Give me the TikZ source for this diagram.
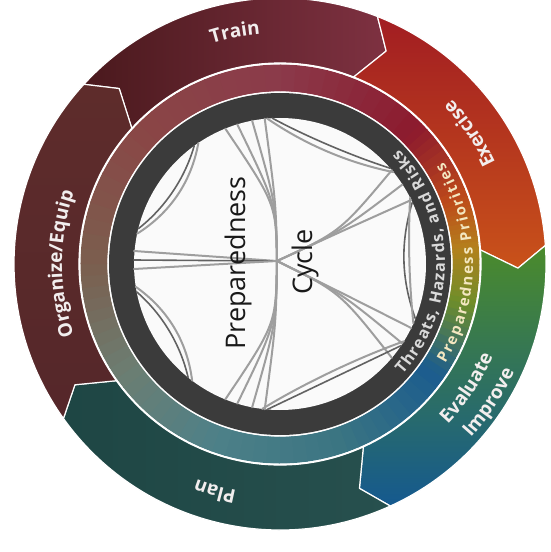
\documentclass[tikz,border=0pt]{standalone}
\usepackage{fontspec}
\setmainfont{Open Sans}
\usetikzlibrary{decorations.text}

\definecolor{trainL}{HTML}{4A191D}
\definecolor{trainR}{HTML}{7E3141}
\definecolor{exT}{HTML}{A21D22}
\definecolor{exB}{HTML}{C9521A}
\definecolor{evT}{HTML}{4B8B2B}
\definecolor{evB}{HTML}{15598F}
\definecolor{planL}{HTML}{1E4644}
\definecolor{planR}{HTML}{27504E}
\definecolor{orgT}{HTML}{5E2C2B}
\definecolor{orgB}{HTML}{55272A}
\definecolor{rA}{HTML}{8B3A4A}
\definecolor{rB}{HTML}{8C1A2E}
\definecolor{rC}{HTML}{BD4A1A}
\definecolor{rD}{HTML}{B4801C}
\definecolor{rE}{HTML}{6E8E2A}
\definecolor{rF}{HTML}{1B5C8E}
\definecolor{rG}{HTML}{3A7482}
\definecolor{rH}{HTML}{4D8088}
\definecolor{rI}{HTML}{6C7E72}
\definecolor{rJ}{HTML}{7B5E4E}
\definecolor{rK}{HTML}{8A4646}
\definecolor{ringdark}{HTML}{3B3B3B}
\definecolor{webgrey}{HTML}{9E9E9E}
\definecolor{webdark}{HTML}{626262}
\definecolor{labelc}{HTML}{F2EEEE}
\definecolor{prioc}{HTML}{F3E7C0}
\definecolor{threatc}{HTML}{DADADA}

\newcommand{\outerfont}{\fontsize{19}{23}\selectfont}

\tikzset{
  trainfill/.style={left color=trainL, right color=trainR},
  exfill/.style={top color=exT, bottom color=exB},
  evfill/.style={top color=evT, bottom color=evB},
  planfill/.style={left color=planL, right color=planR},
  orgfill/.style={top color=orgT, bottom color=orgB},
  web/.style={draw=webgrey, line width=2pt},
  webdk/.style={draw=webdark, line width=1.6pt},
  ringtext/.style={decorate, decoration={text along path, text align=center, text color=labelc, #1}}
}

\begin{document}
\begin{tikzpicture}[x=1pt,y=1pt,line join=round,line cap=round]
\useasboundingbox (-280,-288) rectangle (270,264);
% outer arrow segments
\foreach \s/\e/\shade in {137.5/68.5/trainfill, 68.5/4/exfill, 4/-65.5/evfill, -65.5/-144.5/planfill, 215.5/137.5/orgfill}{
  \path[\shade, draw=white, line width=1.2pt]
    (\s:266) arc[start angle=\s, end angle=\e, radius=266pt]
    -- ({\e-5}:238) -- (\e:201)
    arc[start angle=\e, end angle=\s, radius=201pt]
    -- ({\s-5}:238) -- cycle;
}
% middle ring, colour running round
\foreach \a/\b/\ca/\cb in {90/45/rA/rB, 45/20/rB/rC, 20/5/rC/rD, 5/-12/rD/rE, -12/-35/rE/rF, -35/-70/rF/rG, -70/-110/rG/rH, -110/-145/rH/rI, -145/-180/rI/rJ, -180/-225/rJ/rK, -225/-270/rK/rA}{
  \foreach \k in {0,...,9}{
    \pgfmathsetmacro\u{\a+(\b-\a)*\k/10}
    \pgfmathsetmacro\v{\a+(\b-\a)*(\k+1)/10-0.4}
    \pgfmathtruncatemacro\p{\k*10+5}
    \colorlet{segc}{\cb!\p!\ca}
    \fill[segc] (\u:199.5) arc[start angle=\u, end angle=\v, radius=199.5pt]
      -- (\v:172.5) arc[start angle=\v, end angle=\u, radius=172.5pt] -- cycle;
  }
}
\draw[white, line width=1.2pt] (0,0) circle[radius=200.5pt] (0,0) circle[radius=172pt];
% dark ring and inner disk
\fill[ringdark] (0,0) circle[radius=171pt];
\fill[white!96!gray] (0,0) circle[radius=146pt];
% web of lines inside
\coordinate (hub) at (-3,3);
\draw[web] (-146,13) -- (hub);
\draw[webdk] (-146,4) -- (hub);
\draw[web] (-146,-5) -- (hub);
\foreach \t in {96,101,107,112}{
  \draw[web] (hub) .. controls (-4,60) .. (\t:146);
  \draw[web] (hub) .. controls (-4,-60) .. (-\t:146);
}
\foreach \t in {26,33,40}{
  \draw[web] (hub) .. controls (60,32) .. (\t:146);
  \draw[web] (hub) .. controls (60,-28) .. (-\t:146);
}
\draw[webdk] (126:146) .. controls (138:128) and (154:128) .. (166:146);
\draw[web] (124:146) .. controls (137:121) and (155:121) .. (168:146);
\draw[webdk] (191:146) .. controls (203:128) and (219:128) .. (231:146);
\draw[web] (189:146) .. controls (202:121) and (220:121) .. (233:146);
\draw[webdk] (93:146) .. controls (78:130) and (56:130) .. (41:146);
\draw[web] (95:146) .. controls (78:122) and (56:122) .. (39:146);
\draw[webdk] (-34:146) .. controls (-50:130) and (-79:130) .. (-95:146);
\draw[web] (-32:146) .. controls (-50:122) and (-79:122) .. (-97:146);
\draw[webdk] (25:146) .. controls (10:122) and (-7:122) .. (-22:146);
\draw[web] (27:146) .. controls (10:130) and (-7:130) .. (-24:146);
% centre words
\node[rotate=90, font=\fontsize{27}{32}\selectfont, text=black!90] (prep) at (-42,1) {Preparedness};
\node[rotate=90, font=\fontsize{27}{32}\selectfont, text=black!90] (cyc) at (25,2) {Cycle};
% labels on the outer segments
\path[ringtext={text={|\outerfont\bfseries|Train}}] (121:231) arc[start angle=121, end angle=81, radius=231pt];
\path[ringtext={text={|\outerfont\bfseries|Exercise}}] (12:238) arc[start angle=12, end angle=57, radius=238pt];
\path[ringtext={text={|\outerfont\bfseries|Evaluate}}] (-56:232) arc[start angle=-56, end angle=-11, radius=232pt];
\path[ringtext={text={|\outerfont\bfseries|Improve}}] (-56:258) arc[start angle=-56, end angle=-11, radius=258pt];
\path[ringtext={text={|\outerfont\bfseries|Plan}}] (-86:231) arc[start angle=-86, end angle=-126, radius=231pt];
\path[ringtext={text={|\outerfont\bfseries|Organize/Equip}}] (215:218) arc[start angle=215, end angle=145, radius=218pt];
% labels on the two inner rings
\path[decorate, decoration={text along path, text align={fit to path}, text color=threatc,
  text={|\fontsize{16}{19}\selectfont\bfseries|Threats, Hazards, and Risks}}]
  (-42:165) arc[start angle=-42, end angle=44, radius=165pt];
\path[decorate, decoration={text along path, text align={fit to path}, text color=prioc,
  text={|\fontsize{15}{18}\selectfont\bfseries|Preparedness Priorities}}]
  (-31:193) arc[start angle=-31, end angle=32, radius=193pt];
\end{tikzpicture}
\end{document}
